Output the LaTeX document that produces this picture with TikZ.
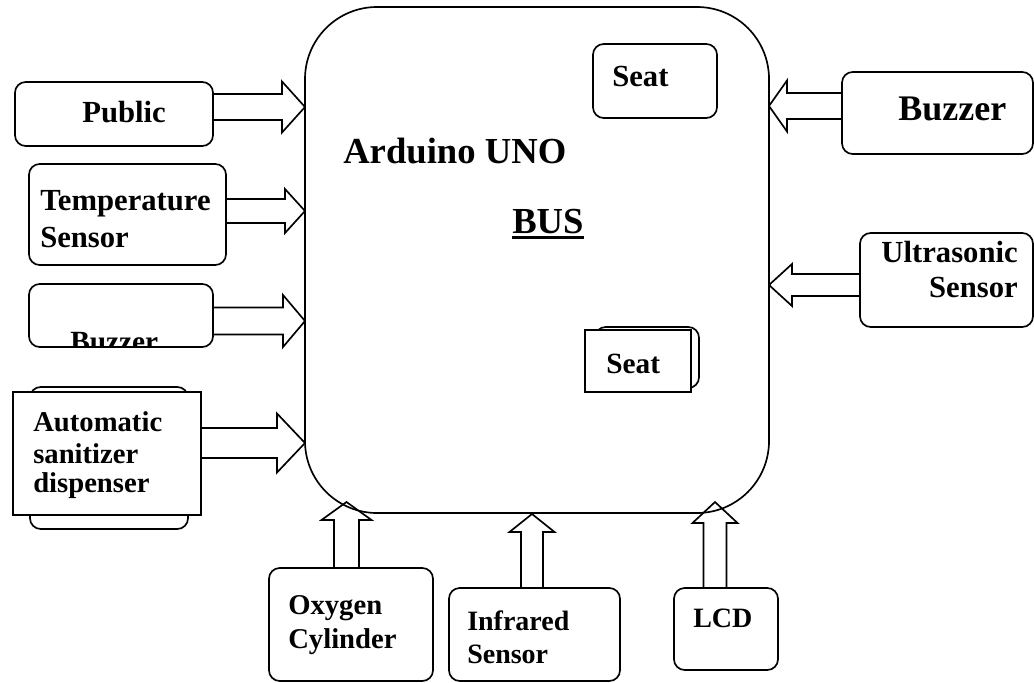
\documentclass[tikz,border=0pt]{standalone}
\usepackage{fontspec}
\setmainfont{Liberation Serif}
\usetikzlibrary{fit,calc}
\tikzset{
  ln/.style={line width=1.25pt, line join=miter},
  rbox/.style={ln, draw, rounded corners=8pt, inner sep=0pt, fill=white},
  sbox/.style={ln, draw, inner sep=0pt, fill=white},
  lbl/.style={inner sep=0pt, font=\bfseries\fontsize{#1}{#1}\selectfont},
  lbl/.default=22pt
}
\newcommand\harrow[6]{%
  \draw[ln] (#1,{#3-(#4)}) -- ({#2-(#6)},{#3-(#4)}) -- ({#2-(#6)},{#3-(#5)}) -- (#2,#3)
    -- ({#2-(#6)},{#3+(#5)}) -- ({#2-(#6)},{#3+(#4)}) -- (#1,{#3+(#4)});}
\newcommand\varrow[6]{%
  \draw[ln] ({#1-(#4)},#2) -- ({#1-(#4)},{#3+(#6)}) -- ({#1-(#5)},{#3+(#6)}) -- (#1,#3)
    -- ({#1+(#5)},{#3+(#6)}) -- ({#1+(#4)},{#3+(#6)}) -- ({#1+(#4)},#2);}
\begin{document}
\begin{tikzpicture}[x=0.75pt,y=-0.75pt]
\useasboundingbox (0,0) rectangle (1034,682);
% main board
\node[ln, draw, rounded corners=54pt, inner sep=0pt, fit={(305,7) (769,513)}] (ard) {};
\node[lbl=27.5pt, anchor=base west] (ardt) at (343,163) {Arduino UNO};
\node[lbl=27.5pt, anchor=base west] (bus) at (512,233) {BUS};
\draw[line width=2.2pt] ([yshift=-3.2pt]bus.base west) -- ([yshift=-3.2pt]bus.base east);
% seats
\node[rbox, fit={(593,44) (717,118)}] (seat1) {};
\node[lbl=23pt, anchor=base west] at (612,86) {Seat};
\node[rbox, fit={(595,327) (699,388)}] (seat2b) {};
\node[sbox, fit={(585,330) (691,392)}] (seat2) {};
\node[lbl=22pt, anchor=base west] at (606,373) {Seat};
% left inputs
\node[rbox, fit={(15,82) (213,146)}] (pub) {};
\node[lbl=23pt, anchor=base west] at (82,122) {Public};
\harrow{213}{305}{107}{13}{25.5}{23}
\node[rbox, fit={(29,164) (226,265)}] (temp) {};
\node[lbl=23pt, anchor=base west] at (40,210) {Temperature};
\node[lbl=23pt, anchor=base west] at (40,247) {Sensor};
\harrow{226}{305}{211}{12}{22}{20}
\begin{scope}
\clip (29,284) rectangle (213,347);
\node[lbl=22pt, anchor=base west] at (70,351) {Buzzer};
\end{scope}
\node[ln, draw, rounded corners=8pt, inner sep=0pt, fit={(29,284) (213,347)}] (buzl) {};
\harrow{213}{305}{321}{13.5}{26}{22}
\node[rbox, fit={(30,387) (188,529)}] (autob) {};
\node[sbox, fit={(13,392) (201,515)}] (auto) {};
\node[lbl=21.5pt, anchor=base west] at (33,431) {Automatic};
\node[lbl=21.5pt, anchor=base west] at (33,463) {sanitizer};
\node[lbl=21.5pt, anchor=base west] at (33,492) {dispenser};
\harrow{201}{305}{443}{15}{29.5}{28}
% right inputs
\node[rbox, fit={(842,72) (1033,154)}] (buzr) {};
\node[lbl=27pt, anchor=base west] at (898,120) {Buzzer};
\harrow{842}{769}{106}{13}{25.5}{-18}
\node[rbox, fit={(860,233) (1033,327)}] (ultra) {};
\node[lbl=23pt, anchor=base east] at (1018,262) {Ultrasonic};
\node[lbl=23pt, anchor=base east] at (1018,297) {Sensor};
\harrow{860}{769}{285}{11}{21}{-23}
% bottom inputs
\node[rbox, fit={(269,568) (433,681)}] (oxy) {};
\node[lbl=21.5pt, anchor=base west] at (288,614) {Oxygen};
\node[lbl=21.5pt, anchor=base west] at (288,648) {Cylinder};
\varrow{346.5}{568}{502}{12.5}{25}{18}
\node[rbox, fit={(449,588) (620,681)}] (ir) {};
\node[lbl=21pt, anchor=base west] at (467,630) {Infrared};
\node[lbl=21pt, anchor=base west] at (467,663) {Sensor};
\varrow{532}{588}{514}{11}{22.5}{18}
\node[rbox, fit={(674,588) (778,670)}] (lcd) {};
\node[lbl=21pt, anchor=base west] at (693,627) {LCD};
\varrow{715}{588}{502}{11.5}{22.5}{21}
\end{tikzpicture}
\end{document}
